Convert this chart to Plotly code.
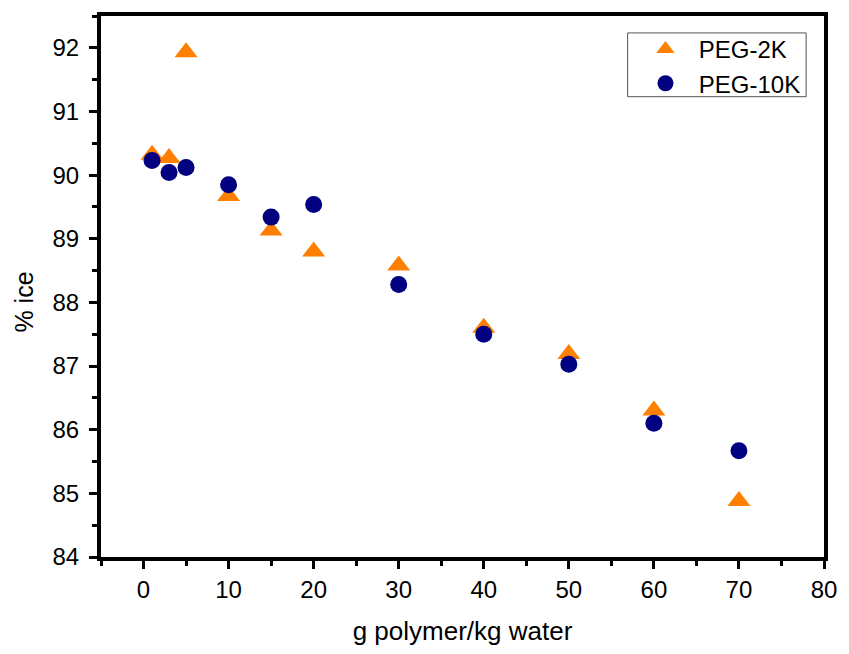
import plotly.graph_objects as go

x_vals = [1, 3, 5, 10, 15, 20, 30, 40, 50, 60, 70]
peg2k = [90.32, 90.27, 91.93, 89.67, 89.13, 88.80, 88.58, 87.60, 87.19, 86.30, 84.88]
peg10k = [90.23, 90.04, 90.12, 89.85, 89.34, 89.54, 88.28, 87.50, 87.03, 86.10, 85.67]
series_names = ["PEG-2K", "PEG-10K"]

FONT = "Liberation Sans, Arial, sans-serif"
NB = "\u00a0"

fig = go.Figure()
fig.add_trace(go.Scatter(x=x_vals, y=peg2k, mode="markers", name=NB * 2 + series_names[0],
                         marker=dict(symbol="triangle-up", size=20, color="#FF8000",
                                     line=dict(width=0))))
fig.add_trace(go.Scatter(x=x_vals, y=peg10k, mode="markers", name=NB * 2 + series_names[1],
                         marker=dict(symbol="circle", size=17, color="#000080",
                                     line=dict(width=0))))

axis_common = dict(showline=True, linecolor="black", linewidth=4, mirror=True,
                   ticks="outside", ticklen=8, tickwidth=3, tickcolor="black",
                   showgrid=False, zeroline=False,
                   tickfont=dict(family=FONT, size=24, color="black"))

L, R, T, B = 101, 19, 15, 96
W, H = 849, 654
pw, ph = W - L - R, H - T - B

def px(xp):
    return (xp - L) / pw

def py(yp):
    return 1 - (yp - T) / ph

fig.update_layout(
    width=W, height=H,
    margin=dict(l=L, r=R, t=T, b=B),
    paper_bgcolor="white", plot_bgcolor="white",
    font=dict(family=FONT, color="black"),
    xaxis=dict(range=[-5, 80], dtick=10, tick0=0,
               title=dict(text="g polymer/kg water", font=dict(family=FONT, size=26), standoff=21),
               minor=dict(ticks="outside", ticklen=5, tickwidth=3, tickcolor="black", dtick=5, tick0=0),
               ticklabelstandoff=0,
               **axis_common),
    yaxis=dict(range=[84, 92.5], dtick=1, tick0=84,
               minor=dict(ticks="outside", ticklen=5, tickwidth=3, tickcolor="black", dtick=0.5, tick0=84),
               ticklabelstandoff=5,
               **axis_common),
    legend=dict(x=px(650), y=py(26), xanchor="left", yanchor="top",
                bgcolor="rgba(0,0,0,0)", borderwidth=0,
                font=dict(family=FONT, size=24, color="black"),
                itemsizing="trace", tracegroupgap=0),
    shapes=[dict(type="rect", xref="paper", yref="paper",
                 x0=px(632), x1=px(812), y0=py(96), y1=py(32),
                 line=dict(color="#555555", width=1), fillcolor="rgba(0,0,0,0)", layer="below")],
    annotations=[dict(text="% ice", textangle=-90, xref="paper", yref="paper",
                      x=px(23), y=py(302), xanchor="center", yanchor="middle",
                      showarrow=False, font=dict(family=FONT, size=25, color="black"))],
)

fig.write_html("out.html")
